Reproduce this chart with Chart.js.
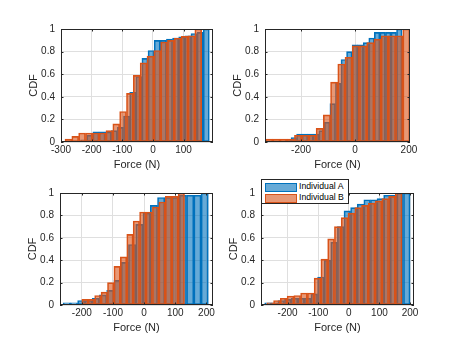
<!DOCTYPE html>
<html>
<head>
<meta charset="utf-8">
<script src="https://cdn.jsdelivr.net/npm/chart.js@4.4.1/dist/chart.umd.min.js"></script>
<style>
  html, body { margin: 0; padding: 0; background: #fff; }
  #fig { position: relative; width: 458px; height: 343px; overflow: hidden; background: #fff; }
  #fig canvas { position: absolute; }
  #legend {
    position: absolute; left: 261px; top: 179px; width: 86px; height: 23px;
    border: 1px solid #262626; background: #fff; z-index: 5;
    font-family: "Liberation Sans", Arial, sans-serif; font-size: 8.7px; color: #000;
  }
  #legend .row { position: absolute; left: 0; height: 10px; width: 86px; }
  #legend .patch { position: absolute; left: 3px; top: 1px; width: 30px; height: 7px; }
  #legend .txt { position: absolute; left: 37px; top: -1px; line-height: 11px; white-space: nowrap; }
</style>
</head>
<body>
<div id="fig">
  <canvas id="c1"></canvas>
  <canvas id="c2"></canvas>
  <canvas id="c3"></canvas>
  <canvas id="c4"></canvas>
  <div id="legend">
    <div class="row" style="top:2px"><div class="patch" style="background:rgba(0,114,189,0.6);border:1px solid #0072BD"></div><div class="txt">Individual A</div></div>
    <div class="row" style="top:13px"><div class="patch" style="background:rgba(217,83,25,0.6);border:1px solid #D95319"></div><div class="txt">Individual B</div></div>
  </div>
</div>
<script>
// ---------- datos: centros de bin y valores CDF por subgráfico ----------
const yTicks = [0, 0.2, 0.4, 0.6, 0.8, 1];

// subplot 1 (arriba izquierda)
const xTicks1 = [-300, -200, -100, 0, 100];
const binsA1 = [-226, -206, -186, -166, -146, -126, -106, -86, -66, -46, -26, -6, 14, 34, 54, 74, 94, 114, 134, 154, 174];
const cdfA1 = [0.02, 0.06, 0.09, 0.09, 0.09, 0.10, 0.13, 0.23, 0.44, 0.58, 0.74, 0.81, 0.90, 0.90, 0.91, 0.92, 0.93, 0.94, 0.96, 0.97, 1.0];
const binsB1 = [-275.9, -253.6, -231.3, -209.0, -186.7, -164.4, -142.1, -119.8, -97.5, -75.2, -52.9, -30.6, -8.3, 14.0, 36.3, 58.6, 80.9, 103.2, 125.5, 147.8];
const cdfB1 = [0.025, 0.05, 0.08, 0.08, 0.08, 0.08, 0.10, 0.16, 0.27, 0.43, 0.59, 0.70, 0.76, 0.81, 0.885, 0.90, 0.92, 0.935, 0.94, 1.0];

// subplot 2 (arriba derecha)
const xTicks2 = [-200, 0, 200];
const binsA2 = [-247.7, -227.1, -206.5, -185.9, -165.3, -144.7, -124.1, -103.5, -82.9, -62.3, -41.7, -21.1, -0.5, 20.1, 40.7, 61.3, 81.9, 102.5, 123.1, 143.7, 164.3];
const cdfA2 = [0.02, 0.04, 0.07, 0.07, 0.07, 0.07, 0.10, 0.175, 0.34, 0.52, 0.73, 0.80, 0.86, 0.86, 0.88, 0.92, 0.97, 0.97, 0.97, 0.97, 1.0];
const binsB2 = [-318.6, -291.8, -265.0, -238.2, -211.4, -184.6, -157.8, -131.0, -104.2, -77.4, -50.6, -23.8, 3.0, 29.8, 56.6, 83.4, 110.2, 137.0, 163.8, 190.6];
const cdfB2 = [0.025, 0.025, 0.025, 0.025, 0.06, 0.06, 0.06, 0.12, 0.24, 0.53, 0.69, 0.75, 0.85, 0.85, 0.88, 0.91, 0.94, 0.94, 0.94, 1.0];

// subplot 3 (abajo izquierda)
const xTicks3 = [-200, -100, 0, 100, 200];
const binsA3 = [-248.4, -225.1, -201.8, -178.5, -155.2, -131.9, -108.6, -85.3, -62.0, -38.7, -15.4, 8.0, 31.3, 54.6, 77.9, 101.2, 124.5, 147.8, 171.1, 194.4];
const cdfA3 = [0.02, 0.02, 0.04, 0.04, 0.06, 0.09, 0.13, 0.22, 0.38, 0.54, 0.72, 0.82, 0.89, 0.96, 0.96, 0.96, 0.98, 0.98, 0.98, 1.0];
const binsB3 = [-189.7, -169.1, -148.5, -127.9, -107.3, -86.7, -66.1, -45.5, -24.9, -4.3, 16.3, 36.9, 57.5, 78.1, 98.7, 119.3];
const cdfB3 = [0.05, 0.05, 0.085, 0.115, 0.20, 0.345, 0.43, 0.63, 0.75, 0.83, 0.83, 0.875, 0.92, 0.97, 0.97, 1.0];

// subplot 4 (abajo derecha)
const xTicks4 = [-200, -100, 0, 100, 200];
const binsA4 = [-264.2, -242.6, -221.0, -199.4, -177.8, -156.2, -134.6, -113.0, -91.4, -69.8, -48.2, -26.6, -5.0, 16.6, 38.2, 59.8, 81.4, 103.0, 124.6, 146.2, 167.8, 189.4];
const cdfA4 = [0.02, 0.02, 0.04, 0.05, 0.06, 0.06, 0.06, 0.10, 0.25, 0.40, 0.56, 0.70, 0.84, 0.87, 0.90, 0.94, 0.94, 0.95, 0.98, 0.98, 1.0, 1.0];
const binsB4 = [-257.0, -234.9, -212.8, -190.7, -168.6, -146.5, -124.4, -102.3, -80.2, -58.1, -36.0, -13.9, 8.3, 30.4, 52.5, 74.6, 96.7, 118.8, 140.9, 163.0];
const cdfB4 = [0.02, 0.04, 0.06, 0.08, 0.085, 0.107, 0.107, 0.24, 0.41, 0.59, 0.70, 0.78, 0.82, 0.87, 0.89, 0.91, 0.93, 0.95, 0.97, 1.0];

// ---------- estilo ----------
const FONT = '"Liberation Sans", Arial, Helvetica, sans-serif';
const AXIS = '#262626';
const GRID = '#dfdfdf';
const Y_W = 45, X_H = 34, PAD_T = 8, PAD_R = 14;

// marco y ticks hacia dentro, como en MATLAB
const framePlugin = {
    id: 'frame',
    afterDraw(chart) {
        const { ctx, chartArea: a } = chart;
        const xs = chart.scales.x, ys = chart.scales.y;
        ctx.save();
        ctx.strokeStyle = AXIS;
        ctx.lineWidth = 1;
        ctx.strokeRect(a.left + 0.5, a.top + 0.5, a.right - a.left - 1, a.bottom - a.top - 1);
        ctx.beginPath();
        xs.ticks.forEach(t => {
            const px = Math.round(xs.getPixelForValue(t.value)) + 0.5;
            ctx.moveTo(px, a.bottom); ctx.lineTo(px, a.bottom - 2.5);
            ctx.moveTo(px, a.top); ctx.lineTo(px, a.top + 2.5);
        });
        ys.ticks.forEach(t => {
            const py = Math.round(ys.getPixelForValue(t.value)) + 0.5;
            ctx.moveTo(a.left, py); ctx.lineTo(a.left + 2.5, py);
            ctx.moveTo(a.right, py); ctx.lineTo(a.right - 2.5, py);
        });
        ctx.stroke();
        ctx.restore();
    }
};

function makePlot(id, box, xMin, xMax, xTicks, binsA, cdfA, binsB, cdfB) {
    const cv = document.getElementById(id);
    cv.width = (box.r - box.l) + Y_W + PAD_R;
    cv.height = (box.b - box.t) + PAD_T + X_H;
    cv.style.left = (box.l - Y_W) + 'px';
    cv.style.top = (box.t - PAD_T) + 'px';

    const barStyle = { borderWidth: 1, borderSkipped: false, barPercentage: 1, categoryPercentage: 1, grouped: false };
    const setTicks = s => { s.ticks = xTicks.map(v => ({ value: v })); };

    new Chart(cv.getContext('2d'), {
        type: 'bar',
        data: {
            datasets: [
                Object.assign({
                    label: 'Individual A',
                    data: binsA.map((x, i) => ({ x, y: cdfA[i] })),
                    xAxisID: 'x',
                    backgroundColor: 'rgba(0, 114, 189, 0.6)',
                    borderColor: '#0072BD',
                    order: 2,
                }, barStyle),
                Object.assign({
                    label: 'Individual B',
                    data: binsB.map((x, i) => ({ x, y: cdfB[i] })),
                    xAxisID: 'xb',
                    backgroundColor: 'rgba(217, 83, 25, 0.6)',
                    borderColor: '#D95319',
                    order: 1,
                }, barStyle),
            ]
        },
        options: {
            responsive: false,
            animation: false,
            devicePixelRatio: 1,
            layout: { padding: { left: 0, top: PAD_T, right: PAD_R, bottom: 0 } },
            plugins: { legend: { display: false }, tooltip: { enabled: false } },
            scales: {
                x: {
                    type: 'linear', position: 'bottom', min: xMin, max: xMax, offset: false,
                    afterBuildTicks: setTicks,
                    afterFit: s => { s.height = X_H; },
                    grid: { color: GRID, drawTicks: false, offset: false },
                    border: { display: false },
                    ticks: { font: { family: FONT, size: 10 }, color: AXIS, padding: 2, maxRotation: 0, autoSkip: false, callback: v => String(v) },
                    title: { display: true, text: 'Force (N)', font: { family: FONT, size: 11 }, color: AXIS, padding: { top: 0, bottom: 4.4 } }
                },
                xb: { type: 'linear', position: 'bottom', min: xMin, max: xMax, offset: false, display: false,
                      afterBuildTicks: setTicks },
                y: {
                    min: 0, max: 1,
                    afterBuildTicks: s => { s.ticks = yTicks.map(v => ({ value: v })); },
                    afterFit: s => { s.width = Y_W; },
                    grid: { color: GRID, drawTicks: false },
                    border: { display: false },
                    ticks: { font: { family: FONT, size: 10 }, color: AXIS, padding: 6, callback: v => String(Math.round(v * 10) / 10) },
                    title: { display: true, text: 'CDF', font: { family: FONT, size: 11 }, color: AXIS, padding: { top: 11.4, bottom: 0 } }
                }
            }
        },
        plugins: [framePlugin]
    });
}

makePlot('c1', { l: 61, r: 213, t: 25, b: 142 }, -300, 196, xTicks1, binsA1, cdfA1, binsB1, cdfB1);
makePlot('c2', { l: 265, r: 410, t: 25, b: 142 }, -334, 204, xTicks2, binsA2, cdfA2, binsB2, cdfB2);
makePlot('c3', { l: 60, r: 213, t: 189, b: 305 }, -270, 221, xTicks3, binsA3, cdfA3, binsB3, cdfB3);
makePlot('c4', { l: 261, r: 414, t: 189, b: 305 }, -287, 213, xTicks4, binsA4, cdfA4, binsB4, cdfB4);
</script>
</body>
</html>
